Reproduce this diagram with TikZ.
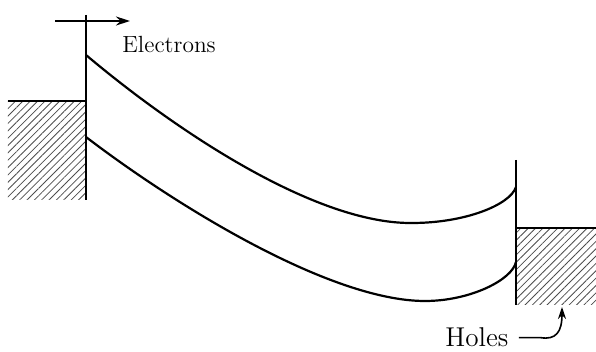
\documentclass[tikz,border=0pt]{standalone}
\usepackage{tikz}
\usetikzlibrary{arrows.meta, patterns.meta}
\tikzset{
  contato/.style={line width=1pt},
  banda/.style={line width=1.1pt, line join=round},
  hachura/.style={pattern={Lines[angle=45, distance=2.6pt, line width=0.4pt]}, pattern color=black!70},
  seta/.style={-{Stealth[length=7pt, width=4.5pt]}, line width=0.8pt},
  setaP/.style={-{Stealth[length=6pt, width=4pt]}, line width=0.8pt},
  rotulo/.style={inner sep=0pt, anchor=base west},
}

\begin{document}
\begin{tikzpicture}[x=0.5pt, y=-0.5pt]
  \useasboundingbox (0,0) rectangle (596,352);

  % metal da esquerda (hachurado)
  \fill[hachura] (8,101) rectangle (86,200);
  \draw[contato] (8,101) -- (86,101);
  \draw[contato] (86,15) -- (86,200);

  % metal da direita (hachurado)
  \fill[hachura] (516,228) rectangle (596,305);
  \draw[contato] (516,228) -- (596,228);
  \draw[contato] (516,160) -- (516,305);

  % bordas das bandas
  \draw[banda] (86,55) .. controls (175,130) and (315,224) .. (412,223)
    .. controls (465,223) and (510,205) .. (516,187);
  \draw[banda] (86,137) .. controls (175,205) and (330,301) .. (425,301)
    .. controls (470,301) and (512,280) .. (516,262);

  % rotulos
  \node[rotulo, font=\fontsize{11.7}{14}\selectfont] (eletrons) at (122,53) {Electrons};
  \node[rotulo, font=\fontsize{13.6}{16}\selectfont] (lacunas) at (445,347) {Holes};

  % setas
  \coordinate (etail) at (55,21);
  \coordinate (ehead) at (130,21);
  \draw[seta] (etail) -- (ehead);

  \coordinate (ltip) at (562,307);
  \draw[setaP] ([xshift=5pt]lacunas.east) -- ++(22,0)
    .. controls (556,340) and (562,332) .. (ltip);
\end{tikzpicture}
\end{document}
